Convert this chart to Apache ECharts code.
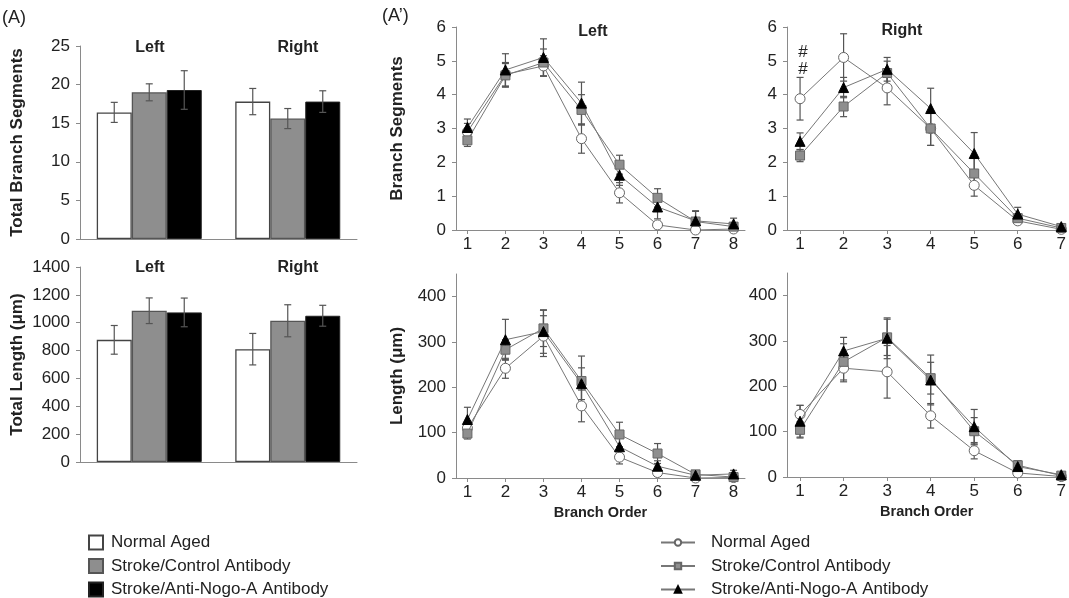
<!DOCTYPE html>
<html><head><meta charset="utf-8">
<script src="https://cdn.jsdelivr.net/npm/echarts@6/dist/echarts.min.js"></script>
<style>html,body{margin:0;padding:0;background:#fff}#c{width:1069px;height:598px}</style>
</head><body><div id="c"></div>
<script>
const groupNames = ['Normal Aged', 'Stroke/Control Antibody', 'Stroke/Anti-Nogo-A Antibody'];
const sides = ['Left', 'Right'];

// Panel A: totals by hemisphere [Left, Right]
const totSegNormal = [16.4, 17.8];
const totSegNormalErr = [1.3, 1.7];
const totSegControl = [19.0, 15.6];
const totSegControlErr = [1.1, 1.3];
const totSegNogo = [19.3, 17.8];
const totSegNogoErr = [2.5, 1.4];

const totLenNormal = [877, 810];
const totLenNormalErr = [103, 113];
const totLenControl = [1086, 1014];
const totLenControlErr = [92, 115];
const totLenNogo = [1074, 1050];
const totLenNogoErr = [103, 75];

// Panel A': by branch order
const ordersLeft = [1, 2, 3, 4, 5, 6, 7, 8];
const ordersRight = [1, 2, 3, 4, 5, 6, 7];

const segLeftNormal = [2.9, 4.6, 4.85, 2.7, 1.1, 0.15, 0.0, 0.03];
const segLeftNormalErr = [0.25, 0.35, 0.3, 0.43, 0.3, 0.1, 0.02, 0.05];
const segLeftControl = [2.65, 4.57, 4.95, 3.55, 1.93, 0.95, 0.25, 0.1];
const segLeftControlErr = [0.18, 0.35, 0.4, 0.45, 0.28, 0.27, 0.3, 0.1];
const segLeftNogo = [3.03, 4.73, 5.1, 3.75, 1.62, 0.68, 0.27, 0.18];
const segLeftNogoErr = [0.25, 0.48, 0.55, 0.62, 0.3, 0.35, 0.3, 0.17];

const segRightNormal = [3.88, 5.1, 4.2, 3.0, 1.32, 0.27, 0.02];
const segRightNormalErr = [0.63, 0.7, 0.5, 0.5, 0.32, 0.08, 0.02];
const segRightControl = [2.2, 3.65, 4.64, 3.0, 1.67, 0.35, 0.06];
const segRightControlErr = [0.18, 0.3, 0.35, 0.5, 0.45, 0.1, 0.05];
const segRightNogo = [2.62, 4.21, 4.75, 3.59, 2.26, 0.47, 0.1];
const segRightNogoErr = [0.25, 0.3, 0.35, 0.6, 0.62, 0.2, 0.05];

const lenLeftNormal = [110, 242, 313, 159, 46, 12, 0, 1];
const lenLeftNormalErr = [12, 22, 45, 35, 15, 8, 2, 3];
const lenLeftControl = [98, 283, 330, 214, 96, 54, 8, 2];
const lenLeftControlErr = [12, 22, 40, 55, 27, 22, 5, 3];
const lenLeftNogo = [129, 305, 323, 208, 69, 26, 6, 9];
const lenLeftNogoErr = [27, 45, 48, 35, 20, 12, 5, 8];

const lenRightNormal = [138, 240, 232, 135, 58, 9, 1];
const lenRightNormalErr = [20, 30, 58, 27, 18, 5, 2];
const lenRightControl = [104, 254, 308, 218, 101, 26, 3];
const lenRightControlErr = [18, 40, 40, 35, 30, 10, 3];
const lenRightNogo = [123, 278, 306, 214, 111, 23, 5];
const lenRightNogoErr = [35, 30, 45, 55, 38, 12, 4];

// ---- styling ----
const FONT = 'Liberation Sans, Arial, sans-serif';
const AX = '#8a8a8a';
const ERR = '#555';
const barStyles = [
  {color: '#ffffff', borderColor: '#444', borderWidth: 1.3},
  {color: '#8e8e8e', borderColor: '#555', borderWidth: 1.3},
  {color: '#000000', borderColor: '#222', borderWidth: 1}
];
const lineSyms = [
  {symbol: 'circle', symbolSize: 10, itemStyle: {color: '#fff', borderColor: '#666', borderWidth: 1}},
  {symbol: 'rect', symbolSize: 9, itemStyle: {color: '#8e8e8e', borderColor: '#666', borderWidth: 1}},
  {symbol: 'triangle', symbolSize: 10, itemStyle: {color: '#000', borderColor: '#000', borderWidth: 1}}
];

const chart = echarts.init(document.getElementById('c'));

const grids = [
  {left: 80, top: 46, width: 277, height: 193},
  {left: 80, top: 267, width: 277, height: 195},
  {left: 456, top: 27, width: 289, height: 203},
  {left: 787, top: 27, width: 282, height: 203},
  {left: 456, top: 274, width: 289, height: 204},
  {left: 787, top: 273, width: 282, height: 204}
];

const labelStyle = {color: '#222', fontSize: 17, fontFamily: FONT};
const nameStyle = {color: '#222', fontSize: 17, fontWeight: 'bold', fontFamily: FONT};
const xNameStyle = {color: '#222', fontSize: 14.5, fontWeight: 'bold', fontFamily: FONT};

function catX(gi) {
  return {type: 'category', gridIndex: gi, data: sides,
    axisLine: {lineStyle: {color: AX}}, axisTick: {show: false}, axisLabel: {show: false}};
}
function valX(gi, max, orders, name) {
  return {type: 'value', gridIndex: gi, min: 0.7, max: max,
    axisLine: {onZero: false, lineStyle: {color: AX}},
    axisTick: {customValues: orders, length: 4, lineStyle: {color: AX}},
    axisLabel: Object.assign({customValues: orders, margin: 6}, labelStyle),
    splitLine: {show: false},
    name: name, nameLocation: 'middle', nameGap: 27, nameTextStyle: xNameStyle};
}
function valY(gi, max, interval, name, gap, shown) {
  const y = {type: 'value', gridIndex: gi, min: 0, max: max,
    axisLine: {show: true, lineStyle: {color: AX}},
    axisTick: {show: true, length: 4, lineStyle: {color: AX}},
    axisLabel: Object.assign({margin: 10, formatter: v => String(v)}, labelStyle),
    splitLine: {show: false},
    name: name, nameLocation: 'middle', nameGap: gap, nameTextStyle: nameStyle};
  if (shown) { y.axisLabel.customValues = shown; y.axisTick.customValues = shown; }
  else y.interval = interval;
  return y;
}

const lenTicks = [0, 100, 200, 300, 400];
const xAxes = [catX(0), catX(1), valX(2, 8.3, ordersLeft, ''), valX(3, 7.12, ordersRight, ''),
  valX(4, 8.3, ordersLeft, 'Branch Order'), valX(5, 7.12, ordersRight, 'Branch Order')];
const yAxes = [
  valY(0, 25, 5, 'Total Branch Segments', 54),
  valY(1, 1400, 200, 'Total Length (μm)', 54),
  valY(2, 6, 1, 'Branch Segments', 50),
  valY(3, 6, 1, '', 40),
  valY(4, 450, null, 'Length (μm)', 50, lenTicks),
  valY(5, 450, null, '', 40, lenTicks)
];

function errSeries(gi, pts, offset, z) {
  return {
    type: 'custom', xAxisIndex: gi, yAxisIndex: gi, z: z || 3, silent: true,
    data: pts,
    renderItem: function (params, api) {
      const x = api.value(0), y = api.value(1), e = api.value(2);
      const hi = api.coord([x, y + e]);
      const lo = api.coord([x, Math.max(y - e, 0)]);
      const cx = hi[0] + offset;
      const w = 3.5;
      const st = {stroke: ERR, lineWidth: 1.2};
      return {type: 'group', children: [
        {type: 'line', shape: {x1: cx, y1: hi[1], x2: cx, y2: lo[1]}, style: st},
        {type: 'line', shape: {x1: cx - w, y1: hi[1], x2: cx + w, y2: hi[1]}, style: st},
        {type: 'line', shape: {x1: cx - w, y1: lo[1], x2: cx + w, y2: lo[1]}, style: st}
      ]};
    }
  };
}

const series = [];
const barSets = [
  [0, [totSegNormal, totSegControl, totSegNogo], [totSegNormalErr, totSegControlErr, totSegNogoErr]],
  [1, [totLenNormal, totLenControl, totLenNogo], [totLenNormalErr, totLenControlErr, totLenNogoErr]]
];
barSets.forEach(([gi, vals, errs]) => {
  vals.forEach((v, k) => {
    series.push({type: 'bar', name: groupNames[k], xAxisIndex: gi, yAxisIndex: gi,
      data: v, barWidth: 35, barGap: '0%', itemStyle: barStyles[k], z: 2});
  });
  vals.forEach((v, k) => {
    series.push(errSeries(gi, v.map((y, i) => [i, y, errs[k][i]]), (k - 1) * 35, 4));
  });
});

const lineSets = [
  [2, ordersLeft, [segLeftNormal, segLeftControl, segLeftNogo], [segLeftNormalErr, segLeftControlErr, segLeftNogoErr]],
  [3, ordersRight, [segRightNormal, segRightControl, segRightNogo], [segRightNormalErr, segRightControlErr, segRightNogoErr]],
  [4, ordersLeft, [lenLeftNormal, lenLeftControl, lenLeftNogo], [lenLeftNormalErr, lenLeftControlErr, lenLeftNogoErr]],
  [5, ordersRight, [lenRightNormal, lenRightControl, lenRightNogo], [lenRightNormalErr, lenRightControlErr, lenRightNogoErr]]
];
lineSets.forEach(([gi, xs, vals, errs]) => {
  vals.forEach((v, k) => {
    series.push(errSeries(gi, v.map((y, i) => [xs[i], y, errs[k][i]]), 0, 2));
  });
  vals.forEach((v, k) => {
    series.push(Object.assign({type: 'line', name: 'L:' + groupNames[k], xAxisIndex: gi, yAxisIndex: gi,
      data: v.map((y, i) => [xs[i], y]), lineStyle: {color: '#777', width: 1},
      showSymbol: true, z: 5 + k, animation: false}, lineSyms[k]));
  });
});

const texts = [
  {t: '(A)', x: 2, y: 18, bold: false, size: 18, align: 'left'},
  {t: '(A’)', x: 382, y: 16, bold: false, size: 18, align: 'left'},
  {t: 'Left', x: 150, y: 48, bold: true, size: 16},
  {t: 'Right', x: 298, y: 48, bold: true, size: 16},
  {t: 'Left', x: 150, y: 268, bold: true, size: 16},
  {t: 'Right', x: 298, y: 268, bold: true, size: 16},
  {t: 'Left', x: 593, y: 32, bold: true, size: 16},
  {t: 'Right', x: 902, y: 31, bold: true, size: 16},
  {t: '#', x: 803, y: 52, bold: false, size: 17},
  {t: '#', x: 803, y: 69, bold: false, size: 17}
];

chart.setOption({
  animation: false,
  backgroundColor: '#fff',
  textStyle: {fontFamily: FONT},
  grid: grids,
  xAxis: xAxes,
  yAxis: yAxes,
  legend: [
    {data: groupNames, orient: 'vertical', left: 88, top: 534, padding: 0, height: 80, itemWidth: 14, itemHeight: 14, itemGap: 6.5,
      icon: 'rect', textStyle: {fontSize: 17, color: '#222', fontFamily: FONT, padding: [0, 0, 0, 3]}, selectedMode: false},
    {data: groupNames.map(n => 'L:' + n), orient: 'vertical', left: 660, top: 534, padding: 0, height: 80, itemWidth: 34, itemHeight: 8, itemGap: 6.5,
      formatter: n => n.replace(/^L:/, ''), textStyle: {fontSize: 17, color: '#222', fontFamily: FONT, padding: [0, 0, 0, 11]}, selectedMode: false}
  ],
  graphic: texts.map(d => ({type: 'text', x: d.x, y: d.y,
    style: {text: d.t, fill: '#222', font: (d.bold ? 'bold ' : '') + d.size + 'px ' + FONT,
      textAlign: d.align || 'center', textVerticalAlign: 'middle'}})),
  series: series
});
</script></body></html>
